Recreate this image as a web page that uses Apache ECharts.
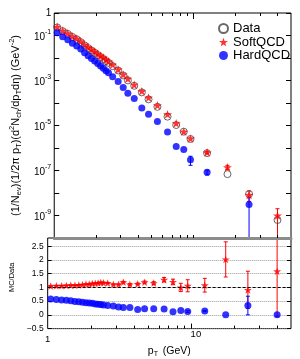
<!DOCTYPE html>
<html><head><meta charset="utf-8">
<script src="https://cdn.jsdelivr.net/npm/echarts@6/dist/echarts.min.js"></script>
<style>html,body{margin:0;padding:0;background:#fff}#c{width:300px;height:359px}</style>
</head><body><div id="c"></div>
<script>
// ---- data ----
const pT = [1.05,1.15,1.25,1.35,1.45,1.55,1.65,1.75,1.85,1.95,2.05,2.15,2.25,2.35,2.45,2.625,2.875,3.125,3.375,3.75,4.25,4.75,5.5,6.5,7.5,8.5,9.5,12.5,17.5,25,40];
const dataYield = [0.229,0.156,0.118,0.0862,0.0675,0.0507,0.0363,0.0276,0.0214,0.0171,0.0136,0.0110,0.00897,0.00728,0.00610,0.00436,0.00279,0.00168,0.00101,5.82e-4,2.97e-4,1.45e-4,6.75e-5,2.47e-5,1.05e-5,5.32e-6,2.51e-6,5.91e-7,6.9e-8,9.05e-9,6.3e-10];
const softYield = [0.240,0.165,0.125,0.0922,0.0729,0.0548,0.0396,0.0304,0.0240,0.0192,0.0155,0.0126,0.0104,0.00859,0.00714,0.00506,0.00310,0.00186,0.00120,6.46e-4,3.36e-4,1.73e-4,7.83e-5,3.16e-5,1.26e-5,5.32e-6,2.66e-6,6.38e-7,1.39e-7,8.24e-9,1.0e-9];
const softYieldErr = [0,0,0,0,0,0,0,0,0,0,0,0,0,0,0,0,0,0,0,0,0,0,0,0,0,0,0,8e-8,3e-8,4e-9,1.0e-9];
const hardYield = [0.1328,0.0874,0.0643,0.0457,0.0344,0.0248,0.0172,0.0127,0.00952,0.00735,0.00571,0.00440,0.00350,0.00273,0.00220,0.00148,8.93e-4,4.87e-4,2.73e-4,1.57e-4,5.94e-5,3.19e-5,1.49e-5,5.19e-6,1.16e-6,8.5e-7,3.0e-7,8.3e-8,null,3.1e-9,null];
const hardYieldErr = [0,0,0,0,0,0,0,0,0,0,0,0,0,0,0,0,0,0,0,0,0,0,0,0,0,0,1.3e-7,2e-8,0,3.1e-9,0];
const softRatio = [1.05,1.06,1.06,1.07,1.08,1.08,1.09,1.10,1.12,1.12,1.14,1.15,1.16,1.18,1.17,1.16,1.11,1.11,1.19,1.11,1.13,1.19,1.16,1.28,1.20,1.00,1.06,1.08,2.02,0.91,1.59];
const softRatioErr = [0.01,0.01,0.01,0.01,0.01,0.01,0.01,0.01,0.01,0.01,0.01,0.015,0.015,0.015,0.015,0.02,0.02,0.02,0.03,0.03,0.03,0.04,0.05,0.08,0.10,0.15,0.22,0.25,0.64,0.68,1.65];
const hardRatio = [0.58,0.56,0.545,0.53,0.51,0.49,0.475,0.46,0.445,0.43,0.42,0.40,0.39,0.375,0.36,0.34,0.32,0.29,0.27,0.27,0.20,0.22,0.22,0.21,0.11,0.16,0.12,0.14,0.0,0.34,0.0];
const hardRatioErr = [0,0,0,0,0,0,0,0,0,0,0,0,0,0,0,0,0,0,0,0,0,0,0,0,0,0,0.03,0.02,0,0.34,0];
const refLine = 1;

// ---- axes / ticks ----
const xRange = [1, 50];
const yTopRange = [1e-10, 1];
const yRatioRange = [-0.5, 2.8];
const xMajorTicks = [10];
const xMinorTicks = [2,3,4,5,6,7,8,9,20,30,40];
const xLabelValues = [1, 10];
const yTopTicks = [1,1e-1,1e-2,1e-3,1e-4,1e-5,1e-6,1e-7,1e-8,1e-9];
const yTopLabelValues = [1,1e-1,1e-3,1e-5,1e-7,1e-9];
const yRatioTicks = [-0.5,0,0.5,1,1.5,2,2.5];
const legendNames = ['Data','SoftQCD','HardQCD'];

const FONT = 'Liberation Sans';
const STAR = 'path://M0,-10L2.35,-3.24L9.51,-3.09L3.8,1.24L5.88,8.09L0,4.2L-5.88,8.09L-3.8,1.24L-9.51,-3.09L-2.35,-3.24Z';
const RED = '#ff0000', BLUE = '#0000ff', DATA_C = '#444';

const pairs = (ys) => pT.map((x,i)=>[x, ys[i]]).filter(d=>d[1]!==null && d[1]!==undefined);
const errs = (ys, es) => pT.map((x,i)=>[x, ys[i], es[i]]).filter(d=>d[1]!==null && d[2]>0);

function errRender(minY, maxY, cap){
  return function(params, api){
    const x = api.value(0), y = api.value(1), e = api.value(2);
    let lo = y - e, hi = y + e;
    const loClamp = lo <= minY, hiClamp = hi >= maxY;
    if (loClamp) lo = minY; if (hiClamp) hi = maxY;
    const p1 = api.coord([x, lo]), p2 = api.coord([x, hi]);
    const style = {stroke: api.visual('color'), lineWidth: 1};
    const ch = [{type:'line', shape:{x1:p1[0],y1:p1[1],x2:p2[0],y2:p2[1]}, style}];
    if (!loClamp) ch.push({type:'line', shape:{x1:p1[0]-cap,y1:p1[1],x2:p1[0]+cap,y2:p1[1]}, style});
    if (!hiClamp) ch.push({type:'line', shape:{x1:p2[0]-cap,y1:p2[1],x2:p2[0]+cap,y2:p2[1]}, style});
    return {type:'group', children: ch};
  };
}

const near = (arr, v) => arr.some(t => Math.abs(t - v) <= 1e-6 * Math.max(1, Math.abs(t)));
const tickLine = {lineStyle:{color:'#000', width:1}};
function logX(grid, pos, ticks, len, extra){
  return Object.assign({type:'log', logBase:10, gridIndex:grid, position:pos, min:xRange[0], max:xRange[1],
    axisLine:{show:false, onZero:false}, splitLine:{show:false}, axisLabel:{show:false},
    axisTick:Object.assign({show:true, inside:true, length:len, customValues:ticks}, tickLine)}, extra||{});
}

const chart = echarts.init(document.getElementById('c'), null, {renderer:'canvas'});
const option = {
  animation: false,
  backgroundColor: '#fff',
  textStyle: {fontFamily: FONT},
  grid: [
    {left:39, top:13, width:252, height:225, show:true, borderColor:'#000', borderWidth:1},
    {left:39, top:238, width:252, height:97, show:true, borderColor:'#000', borderWidth:1}
  ],
  legend: {
    data: [{name:'Data', icon:'circle'}, {name:'SoftQCD', icon:STAR}, {name:'HardQCD', icon:'circle'}],
    orient:'vertical', left:213, top:17,
    itemWidth:9, itemHeight:9, itemGap:0.5,
    textStyle:{fontFamily:FONT, fontSize:13, color:'#000', lineHeight:13}
  },
  xAxis: [
    logX(0, 'bottom', xMinorTicks.concat(xMajorTicks), 3, {z:5, axisLine:{show:true, onZero:false, lineStyle:{color:'#8c8c8c', width:3}}}),
    logX(0, 'top', xMinorTicks, 3),
    logX(0, 'top', xMajorTicks, 6),
    logX(1, 'bottom', xMinorTicks, 3, {
      axisLabel:{show:true, margin:1, color:'#000', fontFamily:FONT, fontSize:9.5, customValues:xLabelValues,
        formatter:(v)=> near([1], v) ? '{a|1}' : (near([10], v) ? '{b|10}' : ''),
        rich:{a:{fontSize:9.5, fontFamily:FONT, color:'#000', padding:[5,0,0,0]},
              b:{fontSize:9.5, fontFamily:FONT, color:'#000', padding:[0,0,0,10]}}},
      name:'{m|p}{sub|T}{m| (GeV)}', nameLocation:'middle', nameGap:9,
      nameTextStyle:{rich:{m:{fontSize:10.5, fontFamily:FONT, color:'#000', lineHeight:14},
                           sub:{fontSize:7, fontFamily:FONT, color:'#000', lineHeight:7, verticalAlign:'bottom', padding:[0,2,0,0]}}}}),
    logX(1, 'bottom', xMajorTicks, 5)
  ],
  yAxis: [
    {type:'log', logBase:10, gridIndex:0, position:'left', min:yTopRange[0], max:yTopRange[1], interval:1,
     axisLine:{show:false}, splitLine:{show:false},
     axisTick:Object.assign({show:true, inside:true, length:5, customValues:yTopTicks}, tickLine),
     axisLabel:{margin:3, color:'#000', fontFamily:FONT, fontSize:10, customValues:yTopLabelValues,
       formatter:(v)=>{const e=Math.round(Math.log10(v)); if(e===0) return '1'; return '{b|10}{s|'+e+'}';},
       rich:{b:{fontSize:10, fontFamily:FONT, color:'#000', lineHeight:14, verticalAlign:'bottom'},
             s:{fontSize:7, fontFamily:FONT, color:'#000', lineHeight:7, verticalAlign:'top'}}},
     name:'{m|(1/N}{sub|ev}{m|)(1/2π p}{sub|T}{m|)(d}{sup|2}{m|N}{sub|ch}{m|/dp}{sub|T}{m|dη) (GeV}{sup|-2}{m|)}',
     nameLocation:'middle', nameRotate:90, nameGap:21,
     nameTextStyle:{rich:{m:{fontSize:11, fontFamily:FONT, color:'#000', lineHeight:15},
                          sub:{fontSize:7.5, fontFamily:FONT, color:'#000', lineHeight:8, verticalAlign:'bottom'},
                          sup:{fontSize:7.5, fontFamily:FONT, color:'#000', lineHeight:8, verticalAlign:'top'}}}},
    {type:'log', logBase:10, gridIndex:0, position:'right', min:yTopRange[0], max:yTopRange[1], interval:1,
     axisLine:{show:false}, splitLine:{show:false}, axisLabel:{show:false},
     axisTick:Object.assign({show:true, inside:true, length:5, customValues:yTopTicks}, tickLine)},
    {type:'value', gridIndex:1, position:'left', min:yRatioRange[0], max:yRatioRange[1], interval:0.5,
     axisLine:{show:false},
     axisTick:Object.assign({show:true, inside:true, length:4, customValues:yRatioTicks}, tickLine),
     splitLine:{show:true, lineStyle:{color:'#9a9a9a', type:'dotted', width:1}},
     axisLabel:{margin:4, color:'#000', fontFamily:FONT, fontSize:8.5, customValues:yRatioTicks,
       formatter:(v)=>String(Math.round(v*10)/10).replace('-','\u2212')},
     name:'MC/Data', nameLocation:'middle', nameRotate:90, nameGap:21,
     nameTextStyle:{fontSize:7.5, fontFamily:FONT, color:'#000', padding:[0,0,0,12]}},
    {type:'value', gridIndex:1, position:'right', min:yRatioRange[0], max:yRatioRange[1], interval:0.5,
     axisLine:{show:false}, splitLine:{show:false}, axisLabel:{show:false},
     axisTick:Object.assign({show:true, inside:true, length:4, customValues:yRatioTicks}, tickLine)}
  ],
  series: [
    {name:'Data', type:'scatter', xAxisIndex:0, yAxisIndex:0, data:pairs(dataYield), symbol:'circle', symbolSize:7, z:2,
     itemStyle:{color:'rgba(255,255,255,0)', borderColor:DATA_C, borderWidth:1}},
    {name:'SoftQCD', type:'scatter', xAxisIndex:0, yAxisIndex:0, data:pairs(softYield), symbol:STAR, symbolSize:9, symbolKeepAspect:true, z:3,
     itemStyle:{color:RED}},
    {name:'HardQCD', type:'scatter', xAxisIndex:0, yAxisIndex:0, data:pairs(hardYield), symbol:'circle', symbolSize:7, z:4,
     itemStyle:{color:BLUE}},
    {name:'SoftQCD', type:'scatter', xAxisIndex:3, yAxisIndex:2, data:pairs(softRatio), symbol:STAR, symbolSize:8, symbolKeepAspect:true, z:3,
     itemStyle:{color:RED},
     markLine:{silent:true, symbol:'none', label:{show:false}, data:[{yAxis:refLine}],
       lineStyle:{color:'#000', type:[3,2], width:1.2}}},
    {name:'HardQCD', type:'scatter', xAxisIndex:3, yAxisIndex:2, data:pairs(hardRatio), symbol:'circle', symbolSize:7, z:4,
     itemStyle:{color:BLUE}},
    {name:'SoftQCD', type:'custom', xAxisIndex:0, yAxisIndex:0, data:errs(softYield, softYieldErr), z:1,
     itemStyle:{color:RED}, renderItem:errRender(yTopRange[0], yTopRange[1], 2), encode:{x:0,y:1}},
    {name:'HardQCD', type:'custom', xAxisIndex:0, yAxisIndex:0, data:errs(hardYield, hardYieldErr), z:1,
     itemStyle:{color:BLUE}, renderItem:errRender(yTopRange[0], yTopRange[1], 2), encode:{x:0,y:1}},
    {name:'SoftQCD', type:'custom', xAxisIndex:3, yAxisIndex:2, data:errs(softRatio, softRatioErr), z:1,
     itemStyle:{color:RED}, renderItem:errRender(yRatioRange[0], yRatioRange[1], 2), encode:{x:0,y:1}},
    {name:'HardQCD', type:'custom', xAxisIndex:3, yAxisIndex:2, data:errs(hardRatio, hardRatioErr), z:1,
     itemStyle:{color:BLUE}, renderItem:errRender(yRatioRange[0], yRatioRange[1], 2), encode:{x:0,y:1}}
  ]
};
chart.setOption(option);
</script></body></html>
